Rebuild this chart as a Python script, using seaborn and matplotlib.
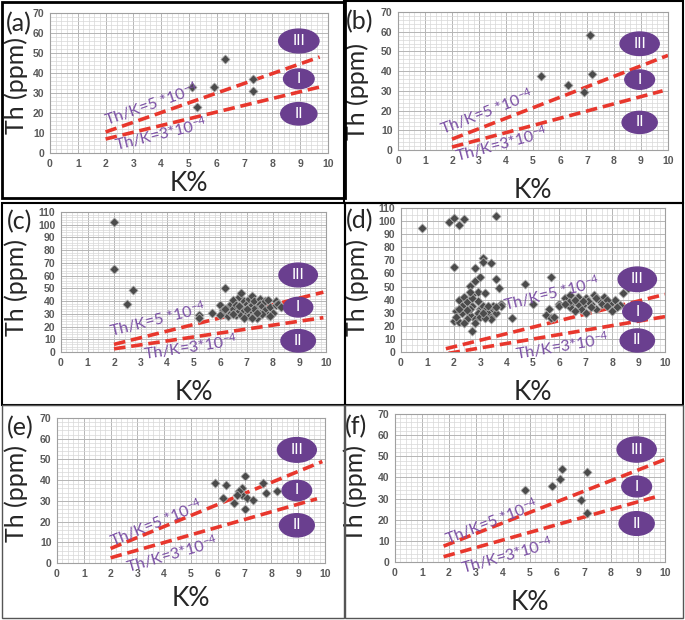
import numpy as np
import pandas as pd
import seaborn as sns
import matplotlib.pyplot as plt
from matplotlib.patches import Ellipse, Rectangle
from matplotlib.ticker import MultipleLocator

# --- values: K (%) and Th (ppm) per panel ---
k_a = [5.1, 5.3, 5.9, 6.3, 7.3, 7.3]
th_a = [32.8, 23.0, 32.8, 46.9, 37.0, 31.0]

k_b = [5.3, 6.3, 6.9, 7.1, 7.2]
th_b = [37.6, 33.2, 29.3, 58.5, 38.3]

k_c = [2.0, 2.0, 2.5, 2.7, 5.2, 5.2, 5.7, 6.2, 6.0, 6.1, 6.2, 6.3, 6.3, 6.4, 6.4,
       6.5, 6.5, 6.6, 6.6, 6.7, 6.7, 6.8, 6.8, 6.8, 6.9, 6.9, 7.0, 7.0, 7.1, 7.1,
       7.1, 7.2, 7.2, 7.2, 7.3, 7.3, 7.4, 7.4, 7.5, 7.5, 7.5, 7.6, 7.7, 7.7, 7.8,
       7.8, 7.9, 8.0, 8.1, 8.1, 8.2, 8.3, 7.9, 6.0, 6.5, 6.9, 7.3, 7.6, 6.2, 7.0,
       6.7, 7.4, 7.2]
th_c = [102, 65, 38, 48.5, 29, 26.5, 30.5, 50, 37, 33, 30, 28, 35, 38, 31,
        41, 34, 29, 37, 43, 32, 46, 36, 29, 40, 33, 38, 30, 42, 35,
        28, 44, 37, 32, 40, 29, 35, 27, 42, 38, 31, 36, 33, 40, 29,
        41, 35, 31, 40, 37, 38, 35, 28, 29, 30, 27, 34, 30, 34, 34,
        36, 31, 27]

k_d = [0.8, 1.8, 2.0, 2.2, 2.4, 3.6,
       2.0, 2.8, 3.1, 3.1, 3.4, 3.6, 3.7, 2.6, 2.8, 3.0, 2.9, 2.7, 4.2, 3.8,
       3.8, 2.7, 3.2,
       2.2, 2.4, 2.5, 2.1, 2.3, 2.0, 2.2, 2.6, 2.8, 3.0, 3.1, 3.2, 3.3, 3.4,
       3.5, 3.6, 3.4, 2.7, 2.9, 2.5, 2.3, 3.0, 3.2, 2.8, 2.4, 2.6, 3.5, 2.1,
       3.3, 2.9, 2.7, 2.6, 2.5, 3.1, 3.6, 2.2,
       4.7, 5.0, 5.7, 5.6, 5.5, 5.7, 5.8, 6.0, 6.2, 6.4, 6.5, 6.7, 6.9, 7.0,
       7.2, 7.3, 7.5, 7.7, 7.9, 8.1, 8.3, 8.4, 8.6, 6.8, 7.0, 6.4, 7.4, 8.2,
       6.35, 6.7, 7.6, 7.8, 8.6, 6.0, 7.8, 8.0, 6.6, 7.1, 7.4, 6.2, 6.9, 7.2,
       6.6]
th_d = [95, 99, 102, 97, 101.5, 104,
        65, 64, 72, 69, 68, 56, 49, 50.5, 54, 57, 45.5, 43.5, 26, 37,
        35, 16, 45,
        40, 42, 38, 31, 30, 24, 23, 28, 25, 33, 35, 32, 30, 27,
        33, 30, 25, 35, 30, 25, 35, 27, 26, 22, 22, 33, 35, 27,
        35, 39, 41, 46, 32, 30, 34, 33,
        52, 37, 57, 33, 28, 26, 27, 37, 41, 43.5, 38.5, 42, 36, 41,
        37, 43.5, 39.7, 42, 37, 39.7, 36, 45, 48.6, 32.5, 29.5, 34, 33, 34.6,
        38.5, 37, 37, 40, 34.6, 35, 35, 31, 40, 39, 41, 37, 39, 34,
        31]

k_e = [5.9, 6.3, 6.2, 6.6, 6.9, 7.0, 7.0, 6.9, 7.1, 7.3, 7.7, 7.8, 8.2, 6.8, 6.7]
th_e = [38.4, 37.6, 31.5, 29.0, 33.0, 26.3, 42.2, 36.0, 31.2, 30.2, 38.4, 34.0,
        34.7, 34.7, 32.8]

k_f = [4.8, 5.8, 6.1, 6.2, 7.1, 6.9, 7.1]
th_f = [34.0, 36.0, 39.3, 43.9, 42.5, 29.2, 23.4]

# Th/K = 5e-4 and 3e-4 guide lines as drawn (end points)
line5_k = [[2.0, 9.7], [2.0, 10.0], [2.0, 9.9], [1.7, 10.0], [2.0, 9.9], [1.8, 10.0]]
line5_th = [[10.5, 48.0], [5.5, 48.0], [6.0, 47.0], [2.5, 44.0], [7.0, 49.0], [7.5, 48.5]]
line3_k = [[2.0, 9.7], [2.0, 9.8], [2.0, 9.9], [1.8, 10.0], [2.0, 9.7], [1.8, 9.7]]
line3_th = [[7.0, 33.0], [1.5, 30.0], [2.5, 27.0], [-1.0, 27.0], [2.5, 31.0], [2.5, 31.0]]

panel_tags = ['(a)', '(b)', '(c)', '(d)', '(e)', '(f)']
y_max = [70, 70, 110, 110, 70, 70]
zone_names = ['III', 'I', 'II']
label5 = 'Th/K=5 *10$^{-4}$'
label3 = 'Th/K=3*10$^{-4}$'

sns.set_style('white')
plt.rcParams['font.family'] = ['Lato', 'DejaVu Sans']
plt.rcParams['mathtext.default'] = 'regular'

W, H = 685, 620
fig = plt.figure(figsize=(W / 100, H / 100), dpi=100)

# axes boxes in pixels: left, right, top, bottom
ax_px = [(50, 328, 13, 153), (398, 668, 12, 150), (61, 326, 212, 352),
         (401, 665, 208, 352), (57, 325, 418, 563), (395, 665, 414, 562)]
tag_px = [(19, 24), (360, 22), (20, 222), (360, 221), (20, 428), (356, 427)]
ylab_px = [(16, 86), (357, 92), (16, 288), (357, 287), (16, 493), (355, 494)]
xlab_y_px = [183, 190, 392, 392, 598, 602]
zone_y = [[0.80, 0.53, 0.28], [0.77, 0.51, 0.20], [0.55, 0.32, 0.08],
          [0.505, 0.28, 0.08], [0.78, 0.50, 0.26], [0.76, 0.51, 0.26]]
lab5_pos = [(3.65, 24.5), (3.28, 19.4), (3.65, 26.3), (5.73, 45.5), (3.69, 19.5), (3.58, 19.2)]
lab3_pos = [(3.98, 9.6), (3.84, 3.4), (4.9, 3.9), (6.11, 5.1), (4.29, 4.5), (4.14, 3.5)]
frames = [(2, 2, 345, 198, 'black', 2.0), (344, 1, 683, 203, 'black', 1.5),
          (2, 203, 345, 405, 'black', 1.5), (345, 203, 683, 405, 'black', 1.5),
          (2, 405, 344, 618, '#555555', 1.0), (345, 405, 683, 618, '#555555', 1.0)]

ks = [k_a, k_b, k_c, k_d, k_e, k_f]
ths = [th_a, th_b, th_c, th_d, th_e, th_f]

purple = '#6a3f8f'
red = '#e8372d'
tick_grey = '#595959'

for fx0, fy0, fx1, fy1, col, lw in frames:
    fig.add_artist(Rectangle((fx0 / W, 1 - fy1 / H), (fx1 - fx0) / W, (fy1 - fy0) / H,
                             transform=fig.transFigure, fill=False, ec=col, lw=lw))

for i in range(6):
    l, r, t, b = ax_px[i]
    ax = fig.add_axes([l / W, 1 - b / H, (r - l) / W, (b - t) / H])
    ax.set_xlim(0, 10)
    ax.set_ylim(0, y_max[i])

    ax.xaxis.set_major_locator(MultipleLocator(1))
    ax.xaxis.set_minor_locator(MultipleLocator(0.2))
    ax.yaxis.set_major_locator(MultipleLocator(10))
    ax.yaxis.set_minor_locator(MultipleLocator(5 if i == 3 else 2))
    ax.grid(True, which='major', color='#b5b5b5', lw=0.7)
    ax.grid(True, which='minor', color='#d8d8d8', lw=0.5)
    ax.set_axisbelow(True)
    for sp in ax.spines.values():
        sp.set_color('#a0a0a0')
        sp.set_linewidth(0.8)
    ax.tick_params(which='both', length=0, labelsize=7.5, labelcolor=tick_grey, pad=4)
    for lab in ax.get_xticklabels() + ax.get_yticklabels():
        lab.set_fontfamily('Liberation Sans')
        lab.set_fontweight('bold')

    # guide lines
    for kk, tt in ((line5_k[i], line5_th[i]), (line3_k[i], line3_th[i])):
        sns.lineplot(x=kk, y=tt, ax=ax, color=red, lw=2.6, estimator=None,
                     linestyle=(0, (3.2, 1.6)), zorder=3)

    # data
    df = pd.DataFrame({'K': ks[i], 'Th': ths[i]})
    sns.scatterplot(data=df, x='K', y='Th', ax=ax, marker='D', s=22,
                    color='#4b4b4b', edgecolor='#b8b8b8', linewidth=0.5, zorder=4)

    # line labels rotated to follow the lines
    for (kk, tt), (px, py), txt in (((line5_k[i], line5_th[i]), lab5_pos[i], label5),
                                    ((line3_k[i], line3_th[i]), lab3_pos[i], label3)):
        p0 = ax.transData.transform((kk[0], tt[0]))
        p1 = ax.transData.transform((kk[1], tt[1]))
        ang = np.degrees(np.arctan2(p1[1] - p0[1], p1[0] - p0[0]))
        ax.text(px, py, txt, rotation=ang, rotation_mode='anchor', ha='center',
                va='center', color='#7b50a5', fontsize=11.5, zorder=5)

    # zone ellipses
    widths = [0.145, 0.11, 0.13]
    heights = [0.17, 0.14, 0.16]
    for name, zy, ew, eh in zip(zone_names, zone_y[i], widths, heights):
        ax.add_patch(Ellipse((0.895, zy), ew, eh, transform=ax.transAxes,
                             color=purple, zorder=6, clip_on=False))
        ax.text(0.895, zy, name, transform=ax.transAxes, ha='center', va='center',
                color='white', fontsize=11, zorder=7)

    ax.set_xlabel('K%', fontsize=19, va='center')
    ax.xaxis.set_label_coords(0.5, (b - xlab_y_px[i]) / (b - t))
    yx, yy = ylab_px[i]
    ax.set_ylabel('Th (ppm)', fontsize=18, va='center')
    ax.yaxis.set_label_coords((yx - l) / (r - l), (b - yy) / (b - t))

    tx, ty = tag_px[i]
    fig.text(tx / W, 1 - ty / H, panel_tags[i], fontsize=18, ha='center', va='center')

fig.savefig('out.png', dpi=100)
